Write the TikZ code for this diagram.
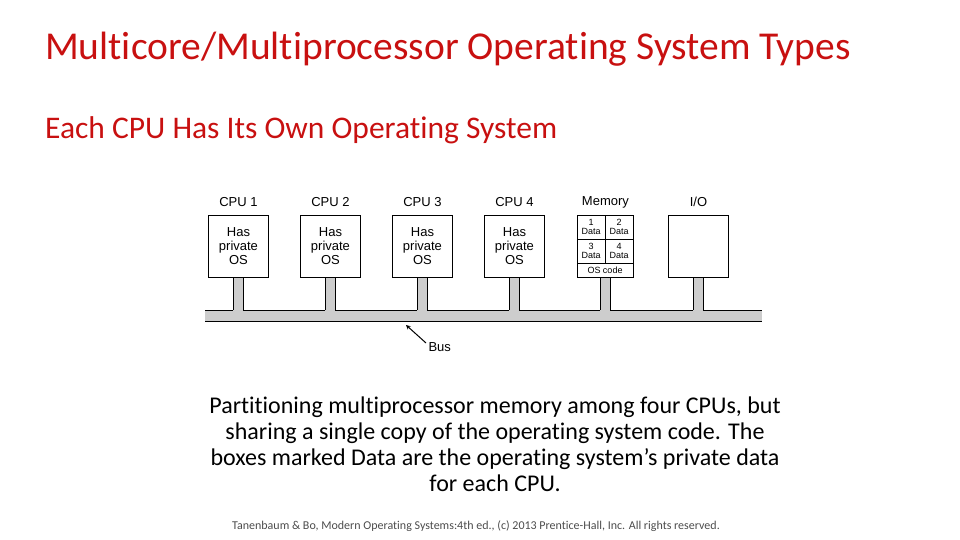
\documentclass[tikz,border=0pt]{standalone}
\usepackage{fontspec}
\setmainfont{Carlito}[RawFeature=-liga]
\newfontfamily\arial{Liberation Sans}
\begin{document}
\begin{tikzpicture}[x=1pt,y=-1pt,
  box/.style={draw,line width=0.9pt,fill=white,minimum width=60pt,minimum height=62pt,anchor=north west,inner sep=0},
  lbl/.style={font=\arial\fontsize{13}{13}\selectfont},
  inb/.style={font=\arial\fontsize{13}{14}\selectfont,align=center},
  tiny/.style={font=\arial\fontsize{9}{9}\selectfont,align=center,inner sep=0}]
\useasboundingbox (0,0) rectangle (960,540);
\definecolor{tred}{RGB}{200,16,16}
\definecolor{busg}{RGB}{205,205,205}
\node[anchor=base west,text=tred,font=\fontsize{39.5}{40}\selectfont,inner sep=0] (title) at (45,60) {Multicore/Multiprocessor Operating System Types};
\node[anchor=base west,text=tred,font=\fontsize{31.5}{32}\selectfont,inner sep=0] (sub) at (45,139) {Each CPU Has Its Own Operating System};
% bus
\fill[busg] (205,310) rectangle (762,321);
\draw[line width=0.9pt] (205,321) -- (762,321);
\foreach \c/\n in {238/1,330/2,422/3,514/4,605/5,698/6}{
  \fill[busg] (\c-5,277) rectangle (\c+5,311);
  \draw[line width=0.9pt] (\c-5,277) -- (\c-5,310);
  \draw[line width=0.9pt] (\c+5,277) -- (\c+5,310);
}
\draw[line width=0.9pt] (205,310) -- (233,310) (243,310) -- (325,310) (335,310) -- (417,310) (427,310) -- (509,310) (519,310) -- (600,310) (610,310) -- (693,310) (703,310) -- (762,310);
\foreach \x/\i in {208/1,300/2,392/3,484/4}{
  \node[box] (cpu\i) at (\x,215) {};
  \node[inb] at (cpu\i.center) {Has\\private\\OS};
  \node[lbl] (l\i) at ([yshift=13pt]cpu\i.north) {CPU \i};
}
\node[box,minimum width=56pt] (mem) at (577,215) {};
\draw[line width=0.7pt] (577,239) -- (633,239) (577,263) -- (633,263) (605,215) -- (605,263);
\node[tiny] (d1) at (591,227) {1\\Data};
\node[tiny] (d2) at (619,227) {2\\Data};
\node[tiny] (d3) at (591,251) {3\\Data};
\node[tiny] (d4) at (619,251) {4\\Data};
\node[tiny] (osc) at (605,270) {OS code};
\node[lbl] (lm) at ([yshift=13pt]mem.north) {Memory};
\node[box] (io) at (668,215) {};
\node[lbl] (lio) at ([yshift=13pt]io.north) {I/O};
\node[lbl,anchor=west] (bus) at (425,347) {Bus};
\coordinate (bt) at (406,325);
\draw[line width=1pt,-stealth] (bus.west) ++(1,-4) -- (bt);
\node[align=center,font=\fontsize{24}{26}\selectfont] (cap) at (495,444) {Partitioning multiprocessor memory among four CPUs, but\\sharing a single copy of the operating system code. The\\boxes marked Data are the operating system’s private data\\for each CPU.};
\node[text=black!70,font=\fontsize{12}{12}\selectfont] (foot) at (476,526) {Tanenbaum \& Bo, Modern Operating Systems:4th ed., (c) 2013 Prentice-Hall, Inc. All rights reserved.};
\end{tikzpicture}
\end{document}
